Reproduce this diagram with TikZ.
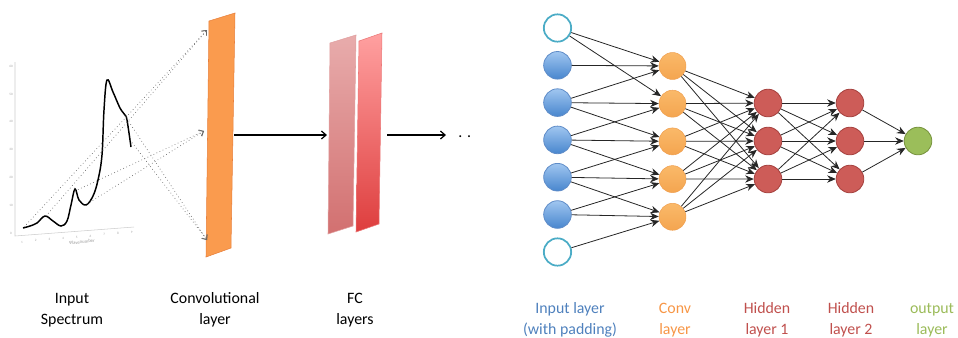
\documentclass[tikz,border=0pt]{standalone}
\usepackage{fontspec}
\setmainfont{Carlito}
\usetikzlibrary{arrows.meta}
\usetikzlibrary{positioning}

\definecolor{inblue}{RGB}{79,129,189}
\definecolor{convorange}{RGB}{247,150,70}
\definecolor{hidred}{RGB}{192,80,77}
\definecolor{outgreen}{RGB}{155,187,89}
\definecolor{padteal}{RGB}{75,172,198}

\tikzset{
  lbl/.style={align=center,inner sep=0pt,font=\fontsize{11.9}{15.5}\selectfont},
  unitpad/.style={circle,minimum size=20.5pt,inner sep=0pt,draw=padteal,line width=1.3pt,fill=white},
  unitin/.style={circle,minimum size=20.7pt,inner sep=0pt,draw={rgb,255:red,95;green,140;blue,200},line width=0.6pt,top color={rgb,255:red,160;green,198;blue,240},bottom color={rgb,255:red,72;green,134;blue,206}},
  unitconv/.style={circle,minimum size=20.2pt,inner sep=0pt,draw={rgb,255:red,240;green,160;blue,80},line width=0.4pt,top color={rgb,255:red,250;green,185;blue,105},bottom color={rgb,255:red,244;green,165;blue,80}},
  unithid/.style={circle,minimum size=20.7pt,inner sep=0pt,draw={rgb,255:red,165;green,65;blue,62},line width=0.6pt,fill={rgb,255:red,205;green,92;blue,88}},
  unitout/.style={circle,minimum size=20.7pt,inner sep=0pt,draw={rgb,255:red,118;green,146;blue,60},line width=0.6pt,fill={rgb,255:red,155;green,190;blue,90}},
  wire/.style={line width=0.6pt,black!85,-{Stealth[length=6.5pt,width=5.5pt]}},
  feed/.style={gray!80!black,dotted,line width=0.5pt,-{Straight Barb[length=3pt,width=5pt]}},
  flow/.style={black,line width=0.9pt,-{Straight Barb[length=3.5pt,width=6pt]}}
}

\begin{document}
\begin{tikzpicture}[x=0.75pt,y=0.75pt,yscale=-1,xscale=1]
\useasboundingbox (0,0) rectangle (958,337);

%Spectrum axes
\draw [black!20,line width=0.4pt] (15,62) -- (15,236) -- (134,227) ;
\foreach \k [count=\j from 0] in {0,10,20,30,40,50,60}
  \node [text=black!35,font=\fontsize{2.5}{3}\selectfont,inner sep=0pt] (yt\j) at (11,{233-27.8*\j}) {\k};
\foreach \k in {1,...,9}
  \node [text=black!35,font=\fontsize{2.5}{3}\selectfont,inner sep=0pt] (xt\k) at ({22+13.7*(\k-1)},{242-1.2*(\k-1)}) {\k};
\node [text=black!40,font=\fontsize{3.5}{4}\selectfont,inner sep=0pt,rotate=6] (xname) at (82,242) {Wavenumber};

%Spectrum curve
\draw [black,line width=1.1pt] plot [smooth,tension=0.6] coordinates {(23,228) (30,226) (37,223) (45,216) (53,221) (61,226) (67,221) (71,205) (75,189) (79,200) (86,205) (93,196) (98,180) (102,155) (104,110) (107,80) (113,92) (120,108) (125,115) (127,120) (131,147)};

%points feeding the conv layer
\coordinate (s1) at (24,227);
\coordinate (s2) at (46,216);
\coordinate (s3) at (75,191);
\coordinate (s4) at (87,204);
\coordinate (s5) at (125,116);
\coordinate (s6) at (130,140);
\coordinate (t1) at (207,30);
\coordinate (t2) at (204,131);
\coordinate (t3) at (207,240);

%Convolutional layer
\draw [draw={rgb,255:red,232;green,128;blue,60},fill={rgb,255:red,250;green,155;blue,78},line width=0.4pt] (209,21) -- (235,13) -- (231,248) -- (206,257) -- cycle ;
\coordinate (convout) at (234,135);

%FC layers
\draw [draw={rgb,255:red,225;green,160;blue,160},line width=0.4pt,top color={rgb,255:red,232;green,172;blue,172},bottom color={rgb,255:red,210;green,112;blue,112}] (330,43) -- (356,35) -- (353,226) -- (328,234) -- cycle ;
\draw [draw={rgb,255:red,235;green,120;blue,120},line width=0.4pt,top color={rgb,255:red,255;green,160;blue,160},bottom color={rgb,255:red,222;green,62;blue,62}] (359,41) -- (382,33) -- (379,224) -- (356,232) -- cycle ;
\coordinate (fcin) at (327,135);
\coordinate (fcout) at (387,135);
\coordinate (fcend) at (446,135);
\node [anchor=base west,inner sep=0pt,font=\fontsize{11.9}{15}\selectfont] (more) at (458,137.5) {. .};

%dotted feeds
\draw [feed] (s1) -- (t1) ;
\draw [feed] (s2) -- (t1) ;
\draw [feed] (s3) -- (t2) ;
\draw [feed] (s4) -- (t2) ;
\draw [feed] (s5) -- (t3) ;
\draw [feed] (s6) -- (t3) ;

%layer arrows
\draw [flow] (convout) -- (fcin) ;
\draw [flow] (fcout) -- (fcend) ;

%Network nodes
\node [unitpad] (in0) at (557.5,28) {};
\foreach \i in {1,...,5}
  \node [unitin] (in\i) at (557.5,{28+37.3*\i}) {};
\node [unitpad] (in6) at (557.5,252) {};
\foreach \i in {0,...,4}
  \node [unitconv] (c\i) at (672.5,{66+37.7*\i}) {};
\foreach \i in {0,1,2}
  \node [unithid] (h\i) at (768,{103+38*\i}) {};
\foreach \i in {0,1,2}
  \node [unithid] (g\i) at (850,{103+38*\i}) {};
\node [unitout] (out) at (918,141) {};

%Network wires
\foreach \a/\b in {0/0,0/1,1/0,2/0,2/1,2/2,3/1,3/2,3/3,4/2,4/3,4/4,5/3,5/4,6/4}
  \draw [wire] (in\a) -- (c\b) ;
\foreach \a in {0,...,4}
  \foreach \b in {0,1,2}
    \draw [wire] (c\a) -- (h\b) ;
\foreach \a in {0,1,2}
  \foreach \b in {0,1,2}
    \draw [wire] (h\a) -- (g\b) ;
\foreach \a in {0,1,2}
  \draw [wire] (g\a) -- (out) ;

%Labels
\node [lbl] (tspec) at (72,310) {Input\\Spectrum};
\node [lbl] (tconv) at (215,310) {Convolutional\\layer};
\node [lbl] (tfc) at (355,310) {FC\\layers};
\node [lbl,text=inblue] (tin) at (570,320) {Input layer\\(with padding)};
\node [lbl,text=convorange] (tcv) at (675,320) {Conv\\layer};
\node [lbl,text=hidred] (th1) at (767,320) {Hidden\\layer 1};
\node [lbl,text=hidred] (th2) at (851,320) {Hidden\\layer 2};
\node [lbl,text=outgreen] (tout) at (932,320) {output\\layer};

\end{tikzpicture}
\end{document}
